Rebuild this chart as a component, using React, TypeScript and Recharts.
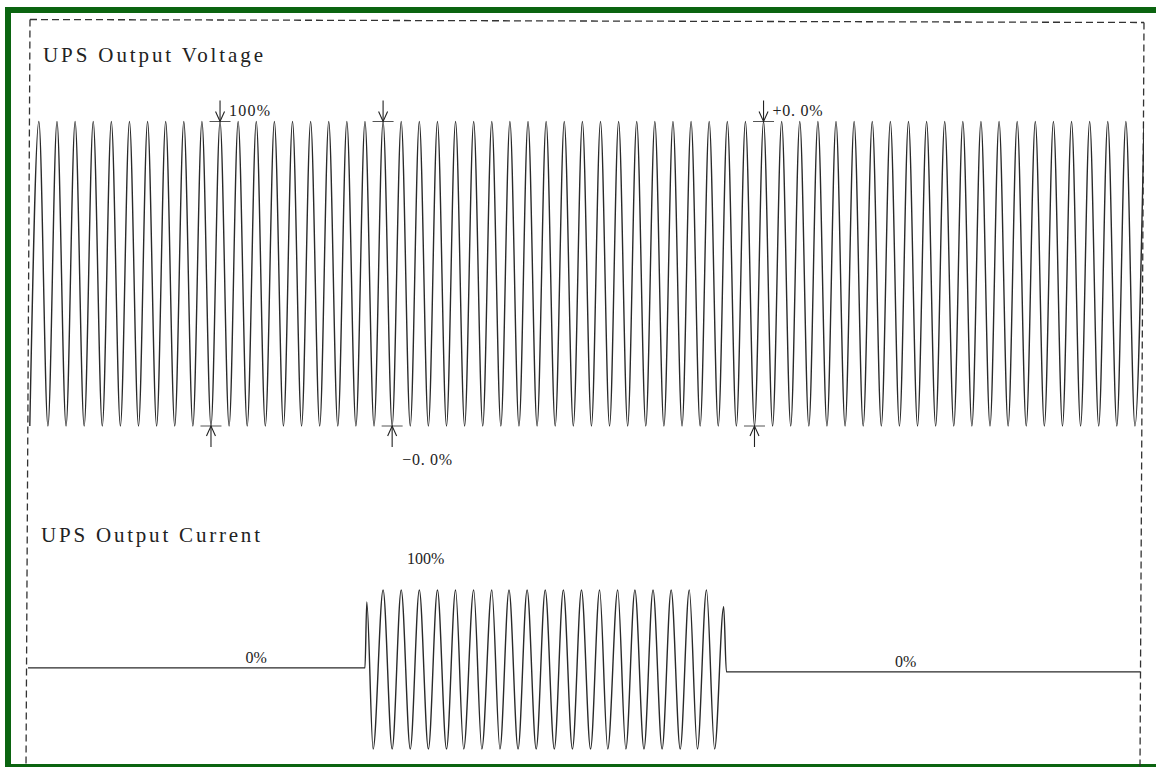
import React from 'react';
import { LineChart, Line, XAxis, YAxis, ReferenceDot } from 'recharts';

const W = 1156;
const H = 767;

// ---------- DATA ----------
// Voltage trace: one trough and one peak per cycle, sampled every half cycle (ms)
const voltageHalfCycleMs = 10;
const voltageTroughs = [
  -100, -100, -100, -100, -100, -100, -100, -100, -100, -100,
  -100, -100, -100, -100, -100, -100, -100, -100, -100, -100,
  -100, -100, -100, -100, -100, -100, -100, -100, -100, -100,
  -100, -100, -100, -100, -100, -100, -100, -100, -100, -100,
  -100, -100, -100, -100, -100, -100, -100, -100, -100, -100,
  -100, -100, -100, -100, -100, -100, -100, -100, -100, -100,
  -100, -100,
];
const voltagePeaks = [
  100, 100, 100, 100, 100, 100, 100, 100, 100, 100,
  100, 100, 100, 100, 100, 100, 100, 100, 100, 100,
  100, 100, 100, 100, 100, 100, 100, 100, 100, 100,
  100, 100, 100, 100, 100, 100, 100, 100, 100, 100,
  100, 100, 100, 100, 100, 100, 100, 100, 100, 100,
  100, 100, 100, 100, 100, 100, 100, 100, 100, 100,
  100, 100,
];

// Current trace: time (ms) and value (% of full load peak)
const currentTimes = [
  -2, 370, 372,
  379, 390, 400, 410, 420, 430, 440, 450, 460, 470,
  479, 490, 499, 510, 519, 529, 539, 549, 559, 569,
  579, 589, 599, 609, 619, 629, 638, 649, 658, 668,
  678, 688, 698, 708, 718, 728, 737, 747, 756, 766,
  769, 1226,
];
const currentValues = [
  2, 2, 85,
  -100, 100, -100, 100, -100, 100, -100, 100, -100, 100,
  -100, 100, -100, 100, -100, 100, -100, 100, -100, 100,
  -100, 100, -100, 100, -100, 100, -100, 100, -100, 100,
  -100, 100, -100, 100, -100, 100, -100, 100, -100, 79,
  -3, -3,
];

// Voltage markers
const markerTimes = [210, 200, 390, 400, 810, 800];
const markerValues = [100, -100, 100, -100, 100, -100];
const markerDirs = ['down', 'up', 'down', 'up', 'down', 'up'];
const markerLabels = ['100%', '', '', '\u22120. 0%', '+0. 0%', ''];

// Current labels
const currentLabelTimes = [250, 437, 967];
const currentLabelValues = [2, 100, -3];
const currentLabelTexts = ['0%', '100%', '0%'];

const titles = ['UPS Output Voltage', 'UPS Output Current'];

// ---------- TABLES ----------
const voltageData: { t: number; v: number }[] = [];
voltageTroughs.forEach((tr, i) => {
  voltageData.push({ t: 2 * i * voltageHalfCycleMs, v: tr });
  voltageData.push({ t: (2 * i + 1) * voltageHalfCycleMs, v: voltagePeaks[i] });
});
const currentData = currentTimes.map((t, i) => ({ t, c: currentValues[i] }));

const X_DOMAIN: [number, number] = [-2, 1230];
const FONT = '"Liberation Serif", "Times New Roman", serif';
const INK = '#222';
const GREEN = '#0b6410';

const MarkerShape = (props: any) => {
  const { cx, cy, dir, label } = props;
  if (cx == null || cy == null) return <g />;
  const s = dir === 'down' ? -1 : 1;
  const labelX = dir === 'down' ? cx + 9 : cx + 10;
  const labelY = dir === 'down' ? cy - 6 : cy + 39;
  return (
    <g>
      <line x1={cx - 10.5} y1={cy} x2={cx + 10.5} y2={cy} stroke="#555" strokeWidth={1} />
      <line x1={cx} y1={cy} x2={cx} y2={cy + s * 21} stroke={INK} strokeWidth={1.1} />
      <polyline
        points={`${cx - 4.5},${cy + s * 10} ${cx},${cy} ${cx + 4.5},${cy + s * 10}`}
        fill="none"
        stroke={INK}
        strokeWidth={1.1}
      />
      {label ? (
        <text
          x={labelX}
          y={labelY}
          fontFamily={FONT}
          fontSize={16}
          fill={INK}
          textLength={label.length > 4 ? 50 : 41}
          lengthAdjust="spacing"
        >
          {label}
        </text>
      ) : null}
    </g>
  );
};

const TextShape = (props: any) => {
  const { cx, cy, text, dy } = props;
  if (cx == null || cy == null) return <g />;
  return (
    <text x={cx} y={cy + dy} textAnchor="middle" fontFamily={FONT} fontSize={16} fill={INK}>
      {text}
    </text>
  );
};

export default function App() {
  const vTop = 273.75 - 130 * 1.5225;
  const vBottom = 273.75 + 130 * 1.5225;
  const cTop = 669.5 - 120 * 0.795;
  const cBottom = 669.5 + 120 * 0.795;

  return (
    <div
      style={{
        position: 'absolute',
        left: 0,
        top: 0,
        width: W,
        height: H,
        background: '#fff',
        overflow: 'hidden',
      }}
    >
      <svg width={W} height={H} style={{ position: 'absolute', left: 0, top: 0 }}>
        <rect x={5} y={7} width={W - 5} height={6} fill={GREEN} />
        <rect x={5} y={7} width={6} height={H - 7} fill={GREEN} />
        <rect x={5} y={764} width={W - 5} height={3} fill={GREEN} />
        <g stroke="#333" strokeWidth={1.3} strokeDasharray="7 4" fill="none">
          <line x1={30} y1={19.5} x2={1144} y2={22.5} />
          <line x1={30} y1={19.5} x2={26} y2={H} />
          <line x1={1144} y1={22.5} x2={1140} y2={H} />
        </g>
        <text x={43} y={62} fontFamily={FONT} fontSize={21} fill={INK} textLength={220} lengthAdjust="spacing">
          {titles[0]}
        </text>
        <text x={41} y={542} fontFamily={FONT} fontSize={21} fill={INK} textLength={219} lengthAdjust="spacing">
          {titles[1]}
        </text>
      </svg>

      <div style={{ position: 'absolute', left: 0, top: 0 }}>
        <LineChart
          width={W}
          height={H}
          data={voltageData}
          margin={{ top: vTop, bottom: H - vBottom, left: 28, right: W - 1144 }}
        >
          <XAxis type="number" dataKey="t" domain={X_DOMAIN} hide allowDataOverflow />
          <YAxis type="number" domain={[-130, 130]} hide allowDataOverflow />
          <Line
            type="monotone"
            dataKey="v"
            stroke="#2a2a2a"
            strokeWidth={1.4}
            dot={false}
            activeDot={false}
            isAnimationActive={false}
          />
          {markerTimes.map((t, i) => (
            <ReferenceDot
              key={`m${i}`}
              x={t}
              y={markerValues[i]}
              r={0}
              ifOverflow="visible"
              shape={(p: any) => <MarkerShape {...p} dir={markerDirs[i]} label={markerLabels[i]} />}
            />
          ))}
        </LineChart>
      </div>

      <div style={{ position: 'absolute', left: 0, top: 0 }}>
        <LineChart
          width={W}
          height={H}
          data={currentData}
          margin={{ top: cTop, bottom: H - cBottom, left: 28, right: W - 1144 }}
        >
          <XAxis type="number" dataKey="t" domain={X_DOMAIN} hide allowDataOverflow />
          <YAxis type="number" domain={[-120, 120]} hide allowDataOverflow />
          <Line
            type="monotone"
            dataKey="c"
            stroke="#2a2a2a"
            strokeWidth={1.4}
            dot={false}
            activeDot={false}
            isAnimationActive={false}
          />
          {currentLabelTimes.map((t, i) => (
            <ReferenceDot
              key={`c${i}`}
              x={t}
              y={currentLabelValues[i]}
              r={0}
              ifOverflow="visible"
              shape={(p: any) => (
                <TextShape {...p} text={currentLabelTexts[i]} dy={currentLabelTexts[i] === '100%' ? -26 : -5} />
              )}
            />
          ))}
        </LineChart>
      </div>
    </div>
  );
}
